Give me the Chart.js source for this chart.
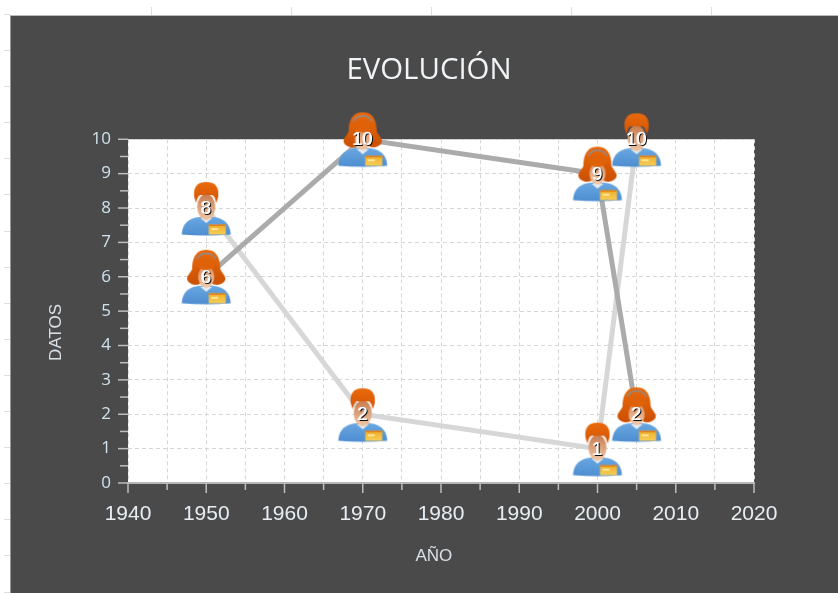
<!DOCTYPE html>
<html>
<head>
<meta charset="utf-8">
<script src="https://cdn.jsdelivr.net/npm/chart.js@4"></script>
<style>
html,body{margin:0;padding:0;background:#fff;overflow:hidden;width:838px;height:593px}
#panel{position:absolute;left:10px;top:15px;width:828px;height:578px;background:#4a4a4a;border-left:1px solid #999;border-top:1px solid #bbb;box-sizing:border-box}
#rulerL{position:absolute;left:4px;top:14px;width:6px;height:579px;background:repeating-linear-gradient(to bottom,#ddd 0,#ddd 1px,transparent 1px,transparent 36.1px)}
#rulerT{position:absolute;left:151px;top:7px;width:687px;height:8px;background:repeating-linear-gradient(to right,#ddd 0,#ddd 1px,transparent 1px,transparent 140px)}
canvas#c{position:absolute;left:0;top:0;filter:blur(0.6px)}
</style>
</head>
<body>
<div id="panel"></div><div id="rulerL"></div><div id="rulerT"></div>
<canvas id="c" width="838" height="593"></canvas>
<script>
const years = [1950, 1970, 2000, 2005];
const womenValues = [6, 10, 9, 2];
const menValues = [8, 2, 1, 10];
const chartTitle = 'EVOLUCIÓN';
const xTitle = 'AÑO   ';
const yTitle = 'DATOS         ';

function makeIcon(female){
  const cv = document.createElement('canvas');
  cv.width = 56; cv.height = 60;
  const g = cv.getContext('2d');
  g.translate(28, 30);
  // shoulders
  let gr = g.createLinearGradient(0, 8, 0, 28);
  gr.addColorStop(0, '#6aa9e2'); gr.addColorStop(1, '#4d8dd0');
  g.fillStyle = gr;
  g.beginPath();
  g.moveTo(-24.5, 26.5);
  g.bezierCurveTo(-24, 15, -17, 10, -7, 9);
  g.lineTo(7, 9);
  g.bezierCurveTo(17, 10, 24, 15, 24.5, 26.5);
  g.quadraticCurveTo(0, 28.5, -24.5, 26.5);
  g.fill();
  // collar
  g.fillStyle = '#e4ecf2';
  g.beginPath(); g.moveTo(-6, 10); g.lineTo(0, 15); g.lineTo(6, 10); g.fill();
  // badge
  gr = g.createLinearGradient(0, 17, 0, 26);
  gr.addColorStop(0, '#f0b02c'); gr.addColorStop(1, '#f7cc55');
  g.fillStyle = gr;
  g.fillRect(2.5, 16.5, 17, 10);
  g.fillStyle = '#e27e1e';
  g.fillRect(2.5, 16.5, 17, 1.5);
  g.fillStyle = '#fbe59a';
  g.fillRect(5, 20, 7, 2);
  // hair
  gr = g.createLinearGradient(0, -27, 0, 8);
  gr.addColorStop(0, '#ea6a0c'); gr.addColorStop(1, '#cc5004');
  g.fillStyle = gr;
  if (female) {
    g.beginPath();
    g.moveTo(0, -27);
    g.bezierCurveTo(12, -27, 14, -16, 14, -8);
    g.bezierCurveTo(16, -3, 20, -1, 19, 3);
    g.bezierCurveTo(17, 8, 10, 9, 6, 7);
    g.lineTo(-6, 7);
    g.bezierCurveTo(-10, 9, -17, 8, -19, 3);
    g.bezierCurveTo(-20, -1, -16, -3, -14, -8);
    g.bezierCurveTo(-14, -16, -12, -27, 0, -27);
    g.fill();
    // face
    gr = g.createLinearGradient(0, -12, 0, 12);
    gr.addColorStop(0, '#d8895a'); gr.addColorStop(1, '#f2cdb0');
    g.fillStyle = gr;
    g.beginPath();
    g.ellipse(0, 0, 8, 11, 0, 0, Math.PI * 2);
    g.fill();
    g.fillStyle = '#df6208';
    g.beginPath();
    g.ellipse(0, -13, 10, 6, 0, 0, Math.PI * 2);
    g.fill();
    g.strokeStyle = 'rgba(130,145,160,0.9)';
    g.lineWidth = 1.5;
    g.beginPath();
    g.arc(0, -13, 10.5, Math.PI * 1.15, Math.PI * 1.85);
    g.stroke();
  } else {
    // face
    gr = g.createLinearGradient(0, -14, 0, 12);
    gr.addColorStop(0, '#c87a4c'); gr.addColorStop(1, '#f0c8a8');
    g.fillStyle = gr;
    g.beginPath();
    g.ellipse(0, -1, 9, 13, 0, 0, Math.PI * 2);
    g.fill();
    gr = g.createLinearGradient(0, -26, 0, -6);
    gr.addColorStop(0, '#ea6a0c'); gr.addColorStop(1, '#d45606');
    g.fillStyle = gr;
    g.beginPath();
    g.moveTo(0, -26);
    g.bezierCurveTo(10, -26, 13, -20, 12, -11);
    g.lineTo(10, -5);
    g.bezierCurveTo(9, -10, 8, -12, 6, -13);
    g.lineTo(-6, -13);
    g.bezierCurveTo(-8, -12, -9, -10, -10, -5);
    g.lineTo(-12, -11);
    g.bezierCurveTo(-13, -20, -10, -26, 0, -26);
    g.fill();
  }
  return cv;
}
const womanIcon = makeIcon(true);
const manIcon = makeIcon(false);

const panelPlugin = {
  id: 'panelPlugin',
  beforeDraw(chart){
    const a = chart.chartArea, g = chart.ctx;
    g.save();
    g.fillStyle = '#ffffff';
    g.fillRect(a.left, a.top, a.right - a.left, a.bottom - a.top);
    g.restore();
  },
  afterLayout(chart){
    chart.titleBlock.left = 20;
    chart.titleBlock.right = 838;
  },
  afterDraw(chart){
    const g = chart.ctx, a = chart.chartArea;
    const xs = chart.scales.x, ys = chart.scales.y;
    g.save();
    g.lineWidth = 1.5;
    g.strokeStyle = '#bdbdbd';
    xs.ticks.forEach(t => {
      const p = xs.getPixelForValue(t.value);
      const len = t.value % 10 === 0 ? 10 : 7;
      g.beginPath(); g.moveTo(p, a.bottom); g.lineTo(p, a.bottom + len); g.stroke();
    });
    ys.ticks.forEach(t => {
      [t.value, t.value + 0.5].forEach(v => {
        if (v > 10) return;
        const p = ys.getPixelForValue(v);
        g.beginPath(); g.moveTo(a.left - (v % 1 === 0 ? 10 : 8), p); g.lineTo(a.left, p); g.stroke();
      });
    });
    g.restore();
    // point value labels
    g.save();
    g.font = '18px "Liberation Sans"';
    g.textAlign = 'center';
    g.textBaseline = 'middle';
    chart.data.datasets.forEach((ds, di) => {
      chart.getDatasetMeta(di).data.forEach((pt, i) => {
        const txt = String(ds.data[i].y);
        g.fillStyle = 'rgba(255,255,255,0.8)';
        g.fillText(txt, pt.x - 1, pt.y + 1);
        g.fillStyle = '#111';
        g.fillText(txt, pt.x + 1, pt.y + 2);
        g.fillStyle = '#fff';
        g.fillText(txt, pt.x, pt.y + 1);
      });
    });
    g.restore();
  }
};

new Chart(document.getElementById('c'), {
  type: 'line',
  plugins: [panelPlugin],
  data: {
    datasets: [
      {
        label: 'Mujeres',
        data: years.map((y, i) => ({ x: y, y: womenValues[i] })),
        borderColor: '#ababab',
        borderWidth: 5,
        pointStyle: womanIcon,
        clip: false,
        tension: 0
      },
      {
        label: 'Hombres',
        data: years.map((y, i) => ({ x: y, y: menValues[i] })),
        borderColor: '#d7d7d7',
        borderWidth: 5,
        pointStyle: manIcon,
        clip: false,
        tension: 0
      }
    ]
  },
  options: {
    responsive: false,
    animation: false,
    layout: { padding: { left: 40, right: 84, top: 0, bottom: 26 } },
    plugins: {
      legend: { display: false },
      tooltip: { enabled: false },
      title: {
        display: true,
        text: chartTitle,
        color: '#f0f4f6',
        font: { family: '"Open Sans"', size: 29.4, weight: 'normal' },
        padding: { top: 53, bottom: 51 }
      }
    },
    scales: {
      x: {
        type: 'linear',
        min: 1940, max: 2020,
        afterFit(s){ s.height = 84; },
        grid: { color: '#d6d6d6', lineWidth: 1, tickColor: 'transparent', tickLength: 10 },
        border: { color: '#b5b5b5', width: 2, dash: [4, 3] },
        ticks: {
          stepSize: 5, autoSkip: false, maxRotation: 0, minRotation: 0,
          padding: 9,
          color: '#e6eef3',
          font: { family: '"Liberation Sans"', size: 21 },
          callback: v => (v % 10 === 0 ? String(v) : '')
        },
        title: {
          display: true, text: xTitle, color: '#d8e0e5',
          font: { family: '"Liberation Sans"', size: 17 },
          padding: { top: 0, bottom: 0 }
        }
      },
      y: {
        min: 0, max: 10,
        afterFit(s){ s.width = 88; },
        grid: { color: '#d6d6d6', lineWidth: 1, tickColor: 'transparent', tickLength: 10 },
        border: { display: false, dash: [4, 3] },
        ticks: {
          stepSize: 1, autoSkip: false,
          padding: 7,
          color: '#cfe3ee',
          font: { family: '"Open Sans"', size: 17 }
        },
        title: {
          display: true, text: yTitle, color: '#d8e0e5',
          font: { family: '"Liberation Sans"', size: 17 },
          padding: { top: 6, bottom: 0 }
        }
      }
    }
  }
});
</script>
</body>
</html>
